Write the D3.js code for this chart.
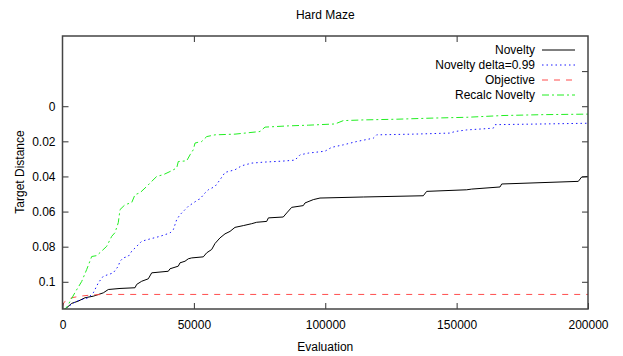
<!DOCTYPE html>
<html>
<head>
<meta charset="utf-8">
<script src="https://cdn.jsdelivr.net/npm/d3@7"></script>
<style>
  body { margin: 0; background: #fff; }
  svg { font-family: "Liberation Sans", Arial, sans-serif; }
</style>
</head>
<body>
<div id="cont"></div>
<script>
// Data //

var xTicks = [0, 50000, 100000, 150000, 200000];
var yTicks = [0, 0.02, 0.04, 0.06, 0.08, 0.1];
var yTicksRight = [-0.02, 0, 0.02, 0.04, 0.06, 0.08, 0.1];

var noveltyEval = [0, 1600, 3500, 6000, 8560, 11720, 15530, 17430, 21880, 27590, 28240, 30140, 32650, 33950, 40270, 40910, 44070, 44720, 46620, 47880, 49170, 53590, 54880, 56780, 58040, 59940, 61850, 63750, 65650, 68810, 72010, 73910, 77720, 78360, 84020, 85330, 87230, 91650, 92290, 95450, 98000, 114480, 137320, 138610, 153840, 155740, 166510, 167160, 196310, 197600, 200000];
var noveltyDist = [0.1165, 0.1148, 0.1123, 0.1110, 0.1091, 0.1082, 0.1063, 0.1044, 0.1038, 0.1034, 0.1015, 0.0997, 0.0983, 0.0949, 0.0940, 0.0926, 0.0911, 0.0892, 0.0883, 0.0869, 0.0864, 0.0858, 0.0835, 0.0816, 0.0782, 0.0750, 0.0727, 0.0713, 0.0690, 0.0680, 0.0669, 0.0661, 0.0656, 0.0636, 0.0631, 0.0608, 0.0576, 0.0566, 0.0551, 0.0532, 0.0523, 0.0517, 0.0510, 0.0485, 0.0476, 0.0472, 0.0460, 0.0443, 0.0428, 0.0403, 0.0400];

var deltaEval = [0, 1600, 5400, 9820, 11720, 13630, 15530, 17430, 19330, 21240, 21880, 23140, 25040, 26340, 28240, 30140, 33300, 37110, 40910, 42170, 43460, 44720, 45980, 47880, 49780, 51680, 52330, 54230, 55490, 58040, 59940, 61850, 65650, 68200, 72010, 77070, 83430, 88490, 90390, 93550, 99910, 102460, 106870, 111970, 118290, 119580, 133510, 147480, 149380, 153840, 163960, 164610, 182990, 200000];
var deltaDist = [0.1165, 0.1146, 0.1110, 0.1091, 0.1063, 0.1006, 0.0968, 0.0959, 0.0949, 0.0911, 0.0883, 0.0864, 0.0855, 0.0826, 0.0798, 0.0769, 0.0756, 0.0741, 0.0722, 0.0703, 0.0646, 0.0618, 0.0599, 0.0570, 0.0551, 0.0532, 0.0528, 0.0494, 0.0476, 0.0457, 0.0419, 0.0377, 0.0362, 0.0339, 0.0324, 0.0318, 0.0313, 0.0307, 0.0277, 0.0267, 0.0256, 0.0234, 0.0220, 0.0201, 0.0182, 0.0163, 0.0159, 0.0153, 0.0144, 0.0135, 0.0125, 0.0105, 0.0101, 0.0097];

var objectiveEval = [0, 570, 2210, 3500, 6660, 10470, 15530, 200000];
var objectiveDist = [0.1140, 0.1117, 0.1101, 0.1091, 0.1082, 0.1076, 0.1072, 0.1072];

var recalcEval = [0, 1600, 4760, 7310, 9210, 11110, 13020, 14270, 16820, 18730, 19980, 21240, 21880, 23790, 26340, 27590, 29500, 32050, 33950, 35850, 38360, 40910, 43460, 44070, 47270, 48530, 49780, 50430, 51680, 52980, 54880, 58040, 65650, 69460, 75170, 77070, 85940, 93550, 103710, 106870, 114480, 127190, 139870, 153840, 167650, 182870, 200000];
var recalcDist = [0.1165, 0.1146, 0.1061, 0.0998, 0.0930, 0.0856, 0.0851, 0.0834, 0.0798, 0.0741, 0.0720, 0.0663, 0.0589, 0.0561, 0.0549, 0.0504, 0.0493, 0.0457, 0.0428, 0.0400, 0.0390, 0.0372, 0.0352, 0.0315, 0.0311, 0.0277, 0.0248, 0.0210, 0.0205, 0.0201, 0.0173, 0.0163, 0.0159, 0.0153, 0.0144, 0.0119, 0.0112, 0.0108, 0.0101, 0.0082, 0.0078, 0.0074, 0.0068, 0.0063, 0.0053, 0.0048, 0.0045];

var seriesNames = ["Novelty", "Novelty delta=0.99", "Objective", "Recalc Novelty"];
var seriesColors = ["#000000", "#1a1aff", "#ff4d4d", "#22ee22"];
var seriesDash = [null, "1.5,3", "6,6", "7,3,2,3"];

// SVG Stuff //

var W = 623, H = 356;
var mLeft = 62.5, mRight = 588, mTop = 36, mBottom = 309;

var svg = d3.select("#cont").append("svg").attr("width", W).attr("height", H);

var x = d3.scaleLinear().domain([0, 200000]).range([mLeft, mRight]);
var y = d3.scaleLinear().domain([-0.04, 0.1155]).range([mTop, mBottom]);

svg.append("clipPath").attr("id", "clip")
  .append("rect").attr("x", mLeft).attr("y", mTop).attr("width", mRight - mLeft).attr("height", mBottom - mTop);

var series = [
  {ev: noveltyEval, d: noveltyDist},
  {ev: deltaEval, d: deltaDist},
  {ev: objectiveEval, d: objectiveDist},
  {ev: recalcEval, d: recalcDist}
];

var line = d3.line()
  .x(function(p) { return x(p[0]); })
  .y(function(p) { return y(p[1]); });

var plot = svg.append("g").attr("clip-path", "url(#clip)");

series.forEach(function(s, i) {
  var pts = s.ev.map(function(e, k) { return [e, s.d[k]]; });
  plot.append("path")
    .attr("d", line(pts))
    .attr("fill", "none")
    .attr("stroke", seriesColors[i])
    .attr("stroke-width", 1)
    .attr("stroke-dasharray", seriesDash[i]);
});

// axes, gnuplot style ticks pointing inwards
var fmtX = d3.format("d");
var fmtY = function(v) { return v === 0 ? "0" : String(+v.toFixed(2)); };

var axB = svg.append("g").attr("transform", "translate(0," + mBottom + ")")
  .call(d3.axisBottom(x).tickValues(xTicks).tickFormat(fmtX).tickSize(-6).tickPadding(11));
var axL = svg.append("g").attr("transform", "translate(" + mLeft + ",0)")
  .call(d3.axisLeft(y).tickValues(yTicks).tickFormat(fmtY).tickSize(-6).tickPadding(7));
var axT = svg.append("g").attr("transform", "translate(0," + mTop + ")")
  .call(d3.axisTop(x).tickValues(xTicks.slice(1, -1)).tickFormat("").tickSize(-6));
var axR = svg.append("g").attr("transform", "translate(" + mRight + ",0)")
  .call(d3.axisRight(y).tickValues(yTicksRight).tickFormat("").tickSize(-6));

[axB, axL, axT, axR].forEach(function(a) {
  a.select(".domain").remove();
  a.selectAll("line").attr("stroke", "#333");
  a.selectAll("text").attr("fill", "#000").style("font-size", "12px")
    .style("font-family", "'Liberation Sans', Arial, sans-serif");
});

svg.append("rect")
  .attr("x", mLeft).attr("y", mTop)
  .attr("width", mRight - mLeft).attr("height", mBottom - mTop)
  .attr("fill", "none").attr("stroke", "#444").attr("stroke-width", 1.5);

// titles
svg.append("text").attr("x", (mLeft + mRight) / 2).attr("y", 19)
  .attr("text-anchor", "middle").style("font-size", "12px").text("Hard Maze");
svg.append("text").attr("x", (mLeft + mRight) / 2).attr("y", 351)
  .attr("text-anchor", "middle").style("font-size", "12px").text("Evaluation");
svg.append("text")
  .attr("transform", "translate(24," + 172 + ") rotate(-90)")
  .attr("text-anchor", "middle").style("font-size", "12px").text("Target Distance");

// legend
var leg = svg.append("g");
seriesNames.forEach(function(name, i) {
  var ly = 50 + i * 15;
  leg.append("text").attr("x", 535).attr("y", ly).attr("dy", "0.35em")
    .attr("text-anchor", "end").style("font-size", "12px").text(name);
  leg.append("line")
    .attr("x1", 542).attr("x2", 575).attr("y1", ly).attr("y2", ly)
    .attr("stroke", seriesColors[i]).attr("stroke-width", 1)
    .attr("stroke-dasharray", seriesDash[i]);
});
</script>
</body>
</html>
